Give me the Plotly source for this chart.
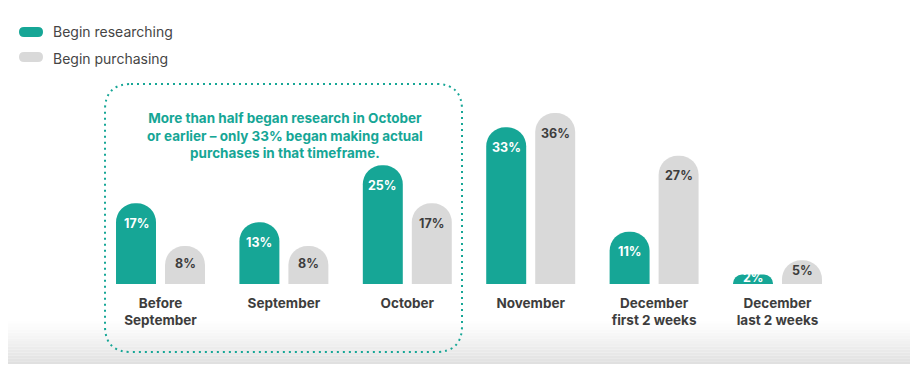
import plotly.graph_objects as go

# ---- data ----
categories = ["Before<br>September", "September", "October", "November",
              "December<br>first 2 weeks", "December<br>last 2 weeks"]
begin_researching = [17, 13, 25, 33, 11, 2]
begin_purchasing = [8, 8, 17, 36, 27, 5]
series_names = ["Begin researching", "Begin purchasing"]
callout_text = ("More than half began research in October<br>"
                "or earlier \u2013 only 33% began making actual<br>"
                "purchases in that timeframe.")

# ---- style ----
W, H = 910, 368
TEAL = "#16a696"
GREY = "#d9d9d9"
DARK = "#3d3d3d"
FONT = "Inter"
BASE_PX = 284          # baseline pixel row
PX_PER_UNIT = 4.75     # pixels per percentage point
GROUP_PX = 123.4       # pixel spacing of groups
FIRST_PX = 160.5       # pixel center of first group


def px(x):
    return x / W


def py(y):
    return 1 - y / H


x_idx = list(range(len(categories)))
x0 = -FIRST_PX / GROUP_PX
x1 = x0 + W / GROUP_PX
y_top = BASE_PX / PX_PER_UNIT

fig = go.Figure()
for name, vals, col in [(series_names[0], begin_researching, TEAL),
                        (series_names[1], begin_purchasing, GREY)]:
    fig.add_trace(go.Bar(
        x=x_idx, y=vals, name=name,
        marker=dict(color=col, cornerradius=20, line=dict(width=0)),
        showlegend=False, hoverinfo="x+y",
    ))

# value labels inside bars
off_units = 20 / PX_PER_UNIT
for vals, shift, col in [(begin_researching, -24.5, "white"),
                         (begin_purchasing, 24.5, DARK)]:
    for i, v in enumerate(vals):
        fig.add_annotation(
            x=i, y=max(v - off_units, v / 2 + 0.4), xref="x", yref="y",
            xshift=shift, text=f"<b>{v}%</b>", showarrow=False,
            font=dict(family=FONT, size=12.5, color=col),
            yanchor="middle", xanchor="center",
        )

shapes = []
# bottom grey gradient band
n = 16
top_g, bot_g = 318, 364
for k in range(n):
    t = (k + 0.5) / n
    g = int(round(255 - 32 * t ** 1.3))
    ya = top_g + (bot_g - top_g) * k / n
    yb = top_g + (bot_g - top_g) * (k + 1) / n
    shapes.append(dict(type="rect", xref="paper", yref="paper",
                       x0=px(8), x1=1, y0=py(yb), y1=py(ya),
                       fillcolor=f"rgb({g},{g},{g})", line=dict(width=0),
                       layer="below"))

# dotted rounded callout box
L, R, T, B, r = 105, 462, 84, 352, 26
path = (f"M {px(L + r)},{py(T)} L {px(R - r)},{py(T)} "
        f"Q {px(R)},{py(T)} {px(R)},{py(T + r)} "
        f"L {px(R)},{py(B - r)} Q {px(R)},{py(B)} {px(R - r)},{py(B)} "
        f"L {px(L + r)},{py(B)} Q {px(L)},{py(B)} {px(L)},{py(B - r)} "
        f"L {px(L)},{py(T + r)} Q {px(L)},{py(T)} {px(L + r)},{py(T)} Z")
shapes.append(dict(type="path", xref="paper", yref="paper", path=path,
                   line=dict(color=TEAL, width=2, dash="2px,4px"),
                   fillcolor="rgba(0,0,0,0)", layer="above"))

# legend pills
for (yc, col) in [(32, TEAL), (57, GREY)]:
    h2, x_l, x_r = 5, 19, 43
    pill = (f"M {px(x_l + h2)},{py(yc - h2)} L {px(x_r - h2)},{py(yc - h2)} "
            f"Q {px(x_r)},{py(yc - h2)} {px(x_r)},{py(yc)} "
            f"Q {px(x_r)},{py(yc + h2)} {px(x_r - h2)},{py(yc + h2)} "
            f"L {px(x_l + h2)},{py(yc + h2)} "
            f"Q {px(x_l)},{py(yc + h2)} {px(x_l)},{py(yc)} "
            f"Q {px(x_l)},{py(yc - h2)} {px(x_l + h2)},{py(yc - h2)} Z")
    shapes.append(dict(type="path", xref="paper", yref="paper", path=pill,
                       fillcolor=col, line=dict(width=0)))

for (yc, name) in [(32, series_names[0]), (58, series_names[1])]:
    fig.add_annotation(x=px(51), y=py(yc), xref="paper", yref="paper",
                       text=name, showarrow=False, xanchor="left",
                       yanchor="middle",
                       font=dict(family=FONT, size=14, color="#454545"))

# callout text
fig.add_annotation(x=px(285), y=py(135), xref="paper", yref="paper",
                   text=f"<b>{callout_text}</b>", showarrow=False,
                   xanchor="center", yanchor="middle", align="center",
                   font=dict(family=FONT, size=13.5, color=TEAL))

fig.update_layout(
    width=W, height=H,
    margin=dict(l=0, r=0, t=0, b=0),
    paper_bgcolor="white", plot_bgcolor="rgba(0,0,0,0)",
    barmode="group", bargap=0.206, bargroupgap=0.184,
    shapes=shapes,
    xaxis=dict(range=[x0, x1], tickmode="array", tickvals=x_idx,
               ticktext=categories, showgrid=False, zeroline=False,
               showline=False, ticks="", ticklabelstandoff=9,
               tickfont=dict(family=FONT, size=13.5, color=DARK, weight="bold"),
               fixedrange=True),
    yaxis=dict(range=[0, y_top], domain=[1 - BASE_PX / H, 1],
               visible=False, showgrid=False, zeroline=False,
               fixedrange=True),
    font=dict(family=FONT),
)

fig.write_html("out.html",
               config={"displayModeBar": False},
               post_script="document.body.style.margin='0';"
                           "document.body.style.padding='0';")
